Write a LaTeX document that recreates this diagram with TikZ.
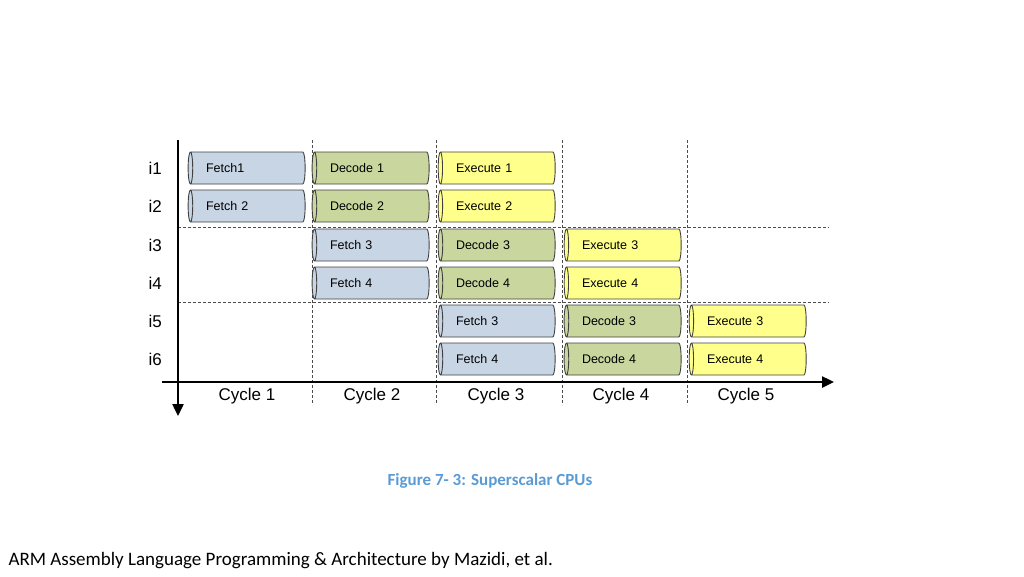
\documentclass[tikz,border=0pt]{standalone}
\usepackage{fontspec}
\setmainfont{Liberation Sans}
\newfontfamily\carl{Carlito}
\usetikzlibrary{shapes.geometric,arrows.meta}
\definecolor{cb}{HTML}{C8D5E4}
\definecolor{cg}{HTML}{C9D79E}
\definecolor{cy}{HTML}{FFFF8C}
\definecolor{capc}{HTML}{5B9BD5}
\tikzset{
 cyl/.style={shape=cylinder, shape border rotate=180, aspect=0.5, draw=black!75, line width=0.9pt,
   cylinder uses custom fill, cylinder body fill=#1, cylinder end fill=#1,
   minimum width=32pt, minimum height=117pt, inner sep=0pt, font=\fontsize{12.5}{12.5}\selectfont,
   text width=84pt, align=left},
 sep/.style={densely dashed, line width=1pt, black!70},
 lbl/.style={font=\fontsize{17}{17}\selectfont},
}
\begin{document}
\begin{tikzpicture}[x=1pt,y=-1pt]
\useasboundingbox (0,0) rectangle (1024,576);
% separators
\foreach \x in {312,436,562,687} \draw[sep] (\x,140) -- (\x,405);
\draw[sep] (178,227) -- (829,227);
\draw[sep] (178,302) -- (829,302);
% axes
\coordinate (vt) at (178,140); \coordinate (vb) at (178,416);
\coordinate (hl) at (162,382); \coordinate (hr) at (834,382);
\draw[line width=2.4pt,-{Triangle[length=12pt,width=11pt]}] (vt) -- (vb);
\draw[line width=2.4pt,-{Triangle[length=12pt,width=11pt]}] (hl) -- (hr);
% rows
\foreach \n/\y in {1/168,2/206,3/245,4/283,5/321,6/359}
  \node[lbl, anchor=west] (i\n) at (145,\y) {i\n};
\foreach \n/\x in {1/247,2/372,3/496,4/621,5/746}
  \node[lbl] (c\n) at (\x,396) {Cycle \n};
% cylinders
\foreach \nm/\x/\y/\t/\c in {
 a/248/168/Fetch1/cb, b/248/206/Fetch 2/cb,
 c/372/168/Decode 1/cg, d/372/206/Decode 2/cg, e/372/245/Fetch 3/cb, f/372/283/Fetch 4/cb,
 g/498/168/Execute 1/cy, h/498/206/Execute 2/cy, k/498/245/Decode 3/cg, l/498/283/Decode 4/cg,
 m/498/321/Fetch 3/cb, n/498/359/Fetch 4/cb,
 o/624/245/Execute 3/cy, p/624/283/Execute 4/cy, q/624/321/Decode 3/cg, r/624/359/Decode 4/cg,
 s/749/321/Execute 3/cy, t/749/359/Execute 4/cy}
  \node[cyl=\c] (\nm) at (\x,\y) {\t};
\node[font=\carl\bfseries\fontsize{17}{17}\selectfont, text=capc] (cap) at (490,481) {Figure 7- 3: Superscalar CPUs};
\node[font=\carl\fontsize{19}{19}\selectfont, anchor=west] (src) at (5,561) {ARM Assembly Language Programming \& Architecture by Mazidi, et al.};
\end{tikzpicture}
\end{document}
